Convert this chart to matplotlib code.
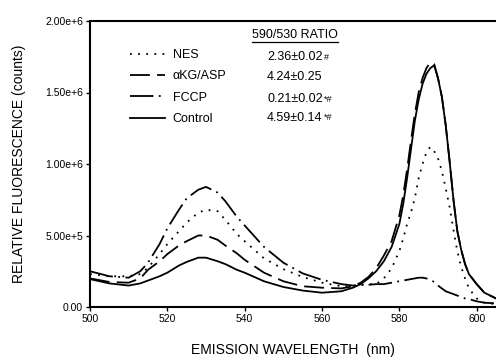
import numpy as np
import matplotlib
matplotlib.use('Agg')
import matplotlib.pyplot as plt
from matplotlib.lines import Line2D

plt.rcParams['font.family'] = ['Liberation Sans', 'DejaVu Sans']

# emission wavelength (nm)
wl = [500, 505, 510, 513, 515, 518, 520, 523, 525, 528, 530, 533, 535, 538,
      540, 545, 550, 555, 560, 565, 568, 570, 572, 574, 576, 578, 579, 580,
      581, 582, 583, 584, 585, 586, 587, 588, 589, 590, 591, 592, 593, 594,
      595, 596, 597, 598, 600, 602, 605]

# fluorescence, in units of 1e5 counts
nes = [2.3, 2.15, 2.15, 2.3, 2.75, 3.7, 4.4, 5.3, 5.9, 6.6, 6.8, 6.7, 6.1, 5.1,
       4.6, 3.4, 2.65, 2.1, 1.7, 1.45, 1.45, 1.55, 1.6, 1.6, 2.0, 2.7, 3.3, 3.9,
       4.8, 5.8, 6.6, 7.6, 9.0, 10.0, 10.8, 11.2, 10.9, 10.4, 9.5, 8.3, 7.0, 5.4,
       3.9, 2.8, 2.0, 1.3, 0.6, 0.3, 0.2]
akg = [2.0, 1.75, 1.7, 2.0, 2.6, 3.2, 3.7, 4.3, 4.6, 5.0, 5.0, 4.7, 4.3, 3.75,
       3.3, 2.4, 1.8, 1.45, 1.35, 1.3, 1.45, 1.7, 2.1, 2.7, 3.6, 4.6, 5.5, 6.4,
       7.8, 9.6, 11.6, 13.5, 15.0, 16.0, 16.7, 17.1, 17.0, 16.0, 14.7, 12.7, 10.2, 7.5,
       5.3, 4.0, 3.0, 2.3, 1.6, 1.0, 0.6]
fccp = [2.5, 2.15, 2.05, 2.5, 3.1, 4.4, 5.5, 6.8, 7.6, 8.2, 8.4, 8.0, 7.4, 6.3,
        5.7, 4.2, 3.1, 2.35, 1.9, 1.6, 1.5, 1.55, 1.55, 1.6, 1.6, 1.7, 1.75, 1.8,
        1.85, 1.9, 1.95, 2.0, 2.05, 2.05, 2.0, 1.9, 1.75, 1.5, 1.3, 1.1, 1.0, 0.9,
        0.8, 0.7, 0.6, 0.55, 0.4, 0.3, 0.25]
control = [1.95, 1.65, 1.5, 1.65, 1.85, 2.15, 2.4, 2.9, 3.15, 3.45, 3.45, 3.2, 3.0, 2.6,
           2.4, 1.8, 1.4, 1.15, 1.0, 1.1, 1.35, 1.6, 2.0, 2.5, 3.2, 4.2, 5.0, 5.8,
           7.2, 9.0, 11.0, 13.0, 14.5, 15.6, 16.3, 16.7, 16.9, 16.0, 14.7, 12.7, 10.2, 7.5,
           5.3, 4.0, 3.0, 2.3, 1.6, 1.0, 0.6]

labels = ['NES', '\u03b1KG/ASP', 'FCCP', 'Control']
ratios = ['2.36\u00b10.02', '4.24\u00b10.25', '0.21\u00b10.02', '4.59\u00b10.14']
marks = ['#', '', '*#', '*#']

xticks = [500, 520, 540, 560, 580, 600]
yticks = [0, 5e5, 1e6, 1.5e6, 2e6]
yticklabels = ['0.00', '5.00e+5', '1.00e+6', '1.50e+6', '2.00e+6']

fig = plt.figure(figsize=(4.96, 3.61), dpi=100)
ax = fig.add_axes([90/496, 1-307/361, 1-90/496, (307-21)/361])

x = np.array(wl)
ax.plot(x, np.array(nes)*1e5, color='k', lw=1.3, ls=(0, (1, 3.5)), label=labels[0])
ax.plot(x, np.array(akg)*1e5, color='k', lw=1.3, ls=(0, (11, 4)), label=labels[1])
ax.plot(x, np.array(fccp)*1e5, color='k', lw=1.3, ls=(0, (13, 3, 1, 3)), label=labels[2])
ax.plot(x, np.array(control)*1e5, color='k', lw=1.3, label=labels[3])

ax.set_xlim(500, 605)
ax.set_ylim(0, 2e6)
ax.set_xticks(xticks)
ax.set_xticklabels([str(t) for t in xticks])
ax.set_yticks(yticks)
ax.set_yticklabels(yticklabels)
ax.tick_params(direction='out', length=3, width=1, labelsize=7.5, pad=2)
ax.spines['right'].set_visible(False)
for s in ['left', 'bottom', 'top']:
    ax.spines[s].set_linewidth(1.5)

ax.set_xlabel('EMISSION WAVELENGTH  (nm)', fontsize=10, labelpad=14)
ax.set_ylabel('RELATIVE FLUORESCENCE (counts)', fontsize=10, labelpad=14)

ax.legend(loc='upper left', bbox_to_anchor=(130/496, 1-49/361),
          bbox_transform=fig.transFigure, frameon=False, fontsize=9,
          handlelength=2.8, handletextpad=0.6, labelspacing=0.75,
          borderpad=0, borderaxespad=0)

# ratio column
hdr = fig.text(252/496, 1-35/361, '590/530 RATIO', fontsize=9, va='center')
fig.canvas.draw()
r = fig.canvas.get_renderer()
bb = hdr.get_window_extent(r)
fig.add_artist(Line2D([bb.x0/496, bb.x1/496], [(bb.y0-1)/361, (bb.y0-1)/361],
                      color='k', lw=0.9))
rows_y = [57, 77, 99, 118]
for ry, val, mk in zip(rows_y, ratios, marks):
    t = fig.text(267/496, 1-ry/361, val, fontsize=9, va='center')
    if mk:
        tb = t.get_window_extent(r)
        fig.text(tb.x1/496 + 0.002, 1-ry/361, mk, fontsize=6.5, va='center')

fig.savefig('out.png', dpi=100)
